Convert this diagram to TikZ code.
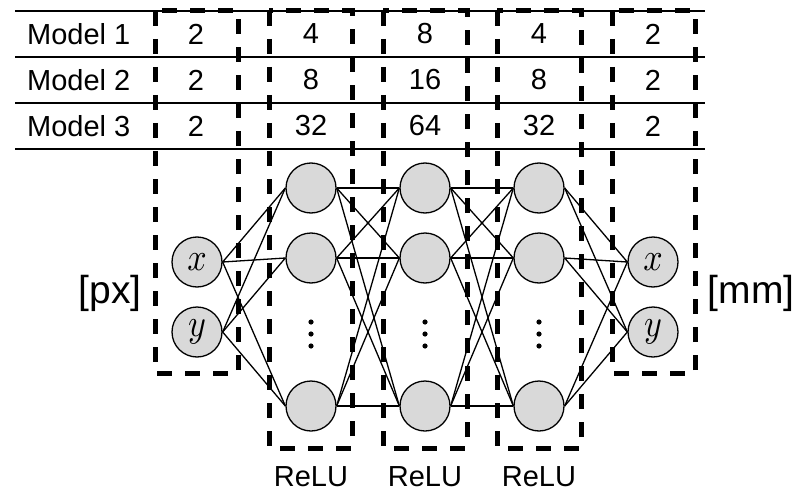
\documentclass[tikz,border=0pt]{standalone}
\usepackage{fontspec}
\setmainfont{Liberation Sans}
\begin{document}
\begin{tikzpicture}[x=1pt,y=-1pt,
  neuron/.style={circle,draw=black,fill=black!15,line width=1.3pt,minimum size=50pt,inner sep=0pt},
  conn/.style={line width=1.3pt},
  grp/.style={line width=5pt,dash pattern=on 15pt off 13pt},
  rule/.style={line width=1.2pt},
  txt/.style={inner sep=0pt,font=\fontsize{29}{31}\selectfont},
  unit/.style={inner sep=0pt,font=\fontsize{39}{42}\selectfont},
  var/.style={inner sep=0pt}]
\useasboundingbox (0,0) rectangle (797,492);
% table rules
\foreach \yy in {11,57,103,149} \draw[rule] (15,\yy) -- (705,\yy);
% table text
\node[txt,anchor=west] (m1) at (27,34) {Model 1};
\node[txt,anchor=west] (m2) at (27,80) {Model 2};
\node[txt,anchor=west] (m3) at (27,126) {Model 3};
\foreach \xx/\a/\b/\c/\n in {196/2/2/2/a,311/4/8/32/b,425/8/16/64/c,539/4/8/32/d,653/2/2/2/e}{
  \node[txt] (t1\n) at (\xx,34) {\a};
  \node[txt] (t2\n) at (\xx,80) {\b};
  \node[txt] (t3\n) at (\xx,126) {\c};
}
% neurons
\node[neuron] (ix) at (197,262) {};
\node[neuron] (iy) at (197,332) {};
\foreach \xx/\l in {311/p,425/q,539/r}{
  \node[neuron] (\l1) at (\xx,188) {};
  \node[neuron] (\l2) at (\xx,258) {};
  \node[neuron] (\l3) at (\xx,406) {};
  \foreach \dy in {322,334,346} \fill (\xx,\dy) circle (2.6pt);
}
\node[neuron] (ox) at (653,262) {};
\node[neuron] (oy) at (653,332) {};
\node[var] (vx1) at (ix) {\scalebox{3.4}[3.9]{$x$}};
\node[var] (vy1) at (iy) {\scalebox{3.4}[3.9]{$y$}};
\node[var] (vx2) at (ox) {\scalebox{3.4}[3.9]{$x$}};
\node[var] (vy2) at (oy) {\scalebox{3.4}[3.9]{$y$}};
% connections
\foreach \s in {ix,iy} \foreach \t in {p1,p2,p3} \draw[conn] (\s.east) -- (\t.west);
\foreach \s in {p1,p2,p3} \foreach \t in {q1,q2,q3} \draw[conn] (\s.east) -- (\t.west);
\foreach \s in {q1,q2,q3} \foreach \t in {r1,r2,r3} \draw[conn] (\s.east) -- (\t.west);
\foreach \s in {r1,r2,r3} \foreach \t in {ox,oy} \draw[conn] (\s.east) -- (\t.west);
% group boxes
\draw[grp] (155,11) rectangle (238,373);
\draw[grp] (269,11) rectangle (352,448);
\draw[grp] (383,11) rectangle (467,448);
\draw[grp] (497,11) rectangle (581,448);
\draw[grp] (612,11) rectangle (695,373);
% labels
\node[unit] (px) at (110,293) {[px]};
\node[unit] (mm) at (751,293) {[mm]};
\node[txt] (rl1) at (311,477) {ReLU};
\node[txt] (rl2) at (425,477) {ReLU};
\node[txt] (rl3) at (539,477) {ReLU};
\end{tikzpicture}
\end{document}
